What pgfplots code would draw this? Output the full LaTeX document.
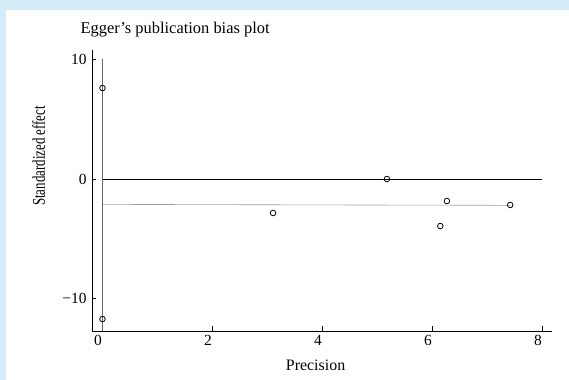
\documentclass[border=0pt]{standalone}
\usepackage{fontspec}
\setmainfont{Liberation Serif}
\usepackage{pgfplots}
\pgfplotsset{compat=1.18}
\definecolor{bgblue}{RGB}{213,236,249}
\begin{document}
\begin{tikzpicture}
\useasboundingbox (-92bp,-49bp) rectangle (477bp,331bp);
\fill[bgblue] (-92bp,-49bp) rectangle (477bp,331bp);
\fill[white] (-85.5bp,-49bp) rectangle (477bp,321bp);
\begin{axis}[
  scale only axis,
  width=460bp, height=281bp,
  xmin=-0.18, xmax=8.18,
  ymin=-12.7, ymax=10.78,
  axis x line*=bottom, axis y line*=left,
  axis line style={black, line width=0.6bp},
  tick align=inside,
  major tick length=4.5bp,
  tick style={black, line width=0.6bp},
  xtick={0,2,4,6,8},
  xticklabels={0,2,4,6,8},
  ytick={-10,0,10},
  yticklabels={−10,0,10},
  tick label style={font=\fontsize{15.5}{17}\selectfont},
  xticklabel style={xshift=-4bp, yshift=-1bp},
  yticklabel style={xshift=-2bp},
  xlabel={Precision},
  xlabel style={font=\fontsize{16}{18}\selectfont, at={(axis description cs:0.486,-0.142)}, anchor=base},
  ylabel={\scalebox{0.72}[1]{Standardized effect}},
  ylabel style={font=\fontsize{18}{20}\selectfont, at={(axis description cs:-0.116,0.623)}, anchor=center},
  title={Egger's publication bias plot},
  title style={font=\fontsize{16.5}{18}\selectfont, at={(axis description cs:-0.0326,1.039)}, anchor=base west},
  clip=false,
]
% zero line
\addplot[black, line width=0.6bp] coordinates {(0,0) (8,0)};
% regression line
\addplot[gray!75, line width=0.6bp] coordinates {(0,-2.12) (7.42,-2.2)};
% vertical CI line
\addplot[black!60, line width=0.5bp] coordinates {(0.01,10) (0.01,-12.7)};
% data points
\addplot[only marks, mark=o, mark size=2.8bp, mark options={black, line width=0.8bp}] coordinates {
 (0.01,7.6) (0.01,-11.7) (3.11,-2.84) (5.18,0) (6.15,-3.93) (6.27,-1.84) (7.42,-2.17)
};
\end{axis}
\end{tikzpicture}
\end{document}
